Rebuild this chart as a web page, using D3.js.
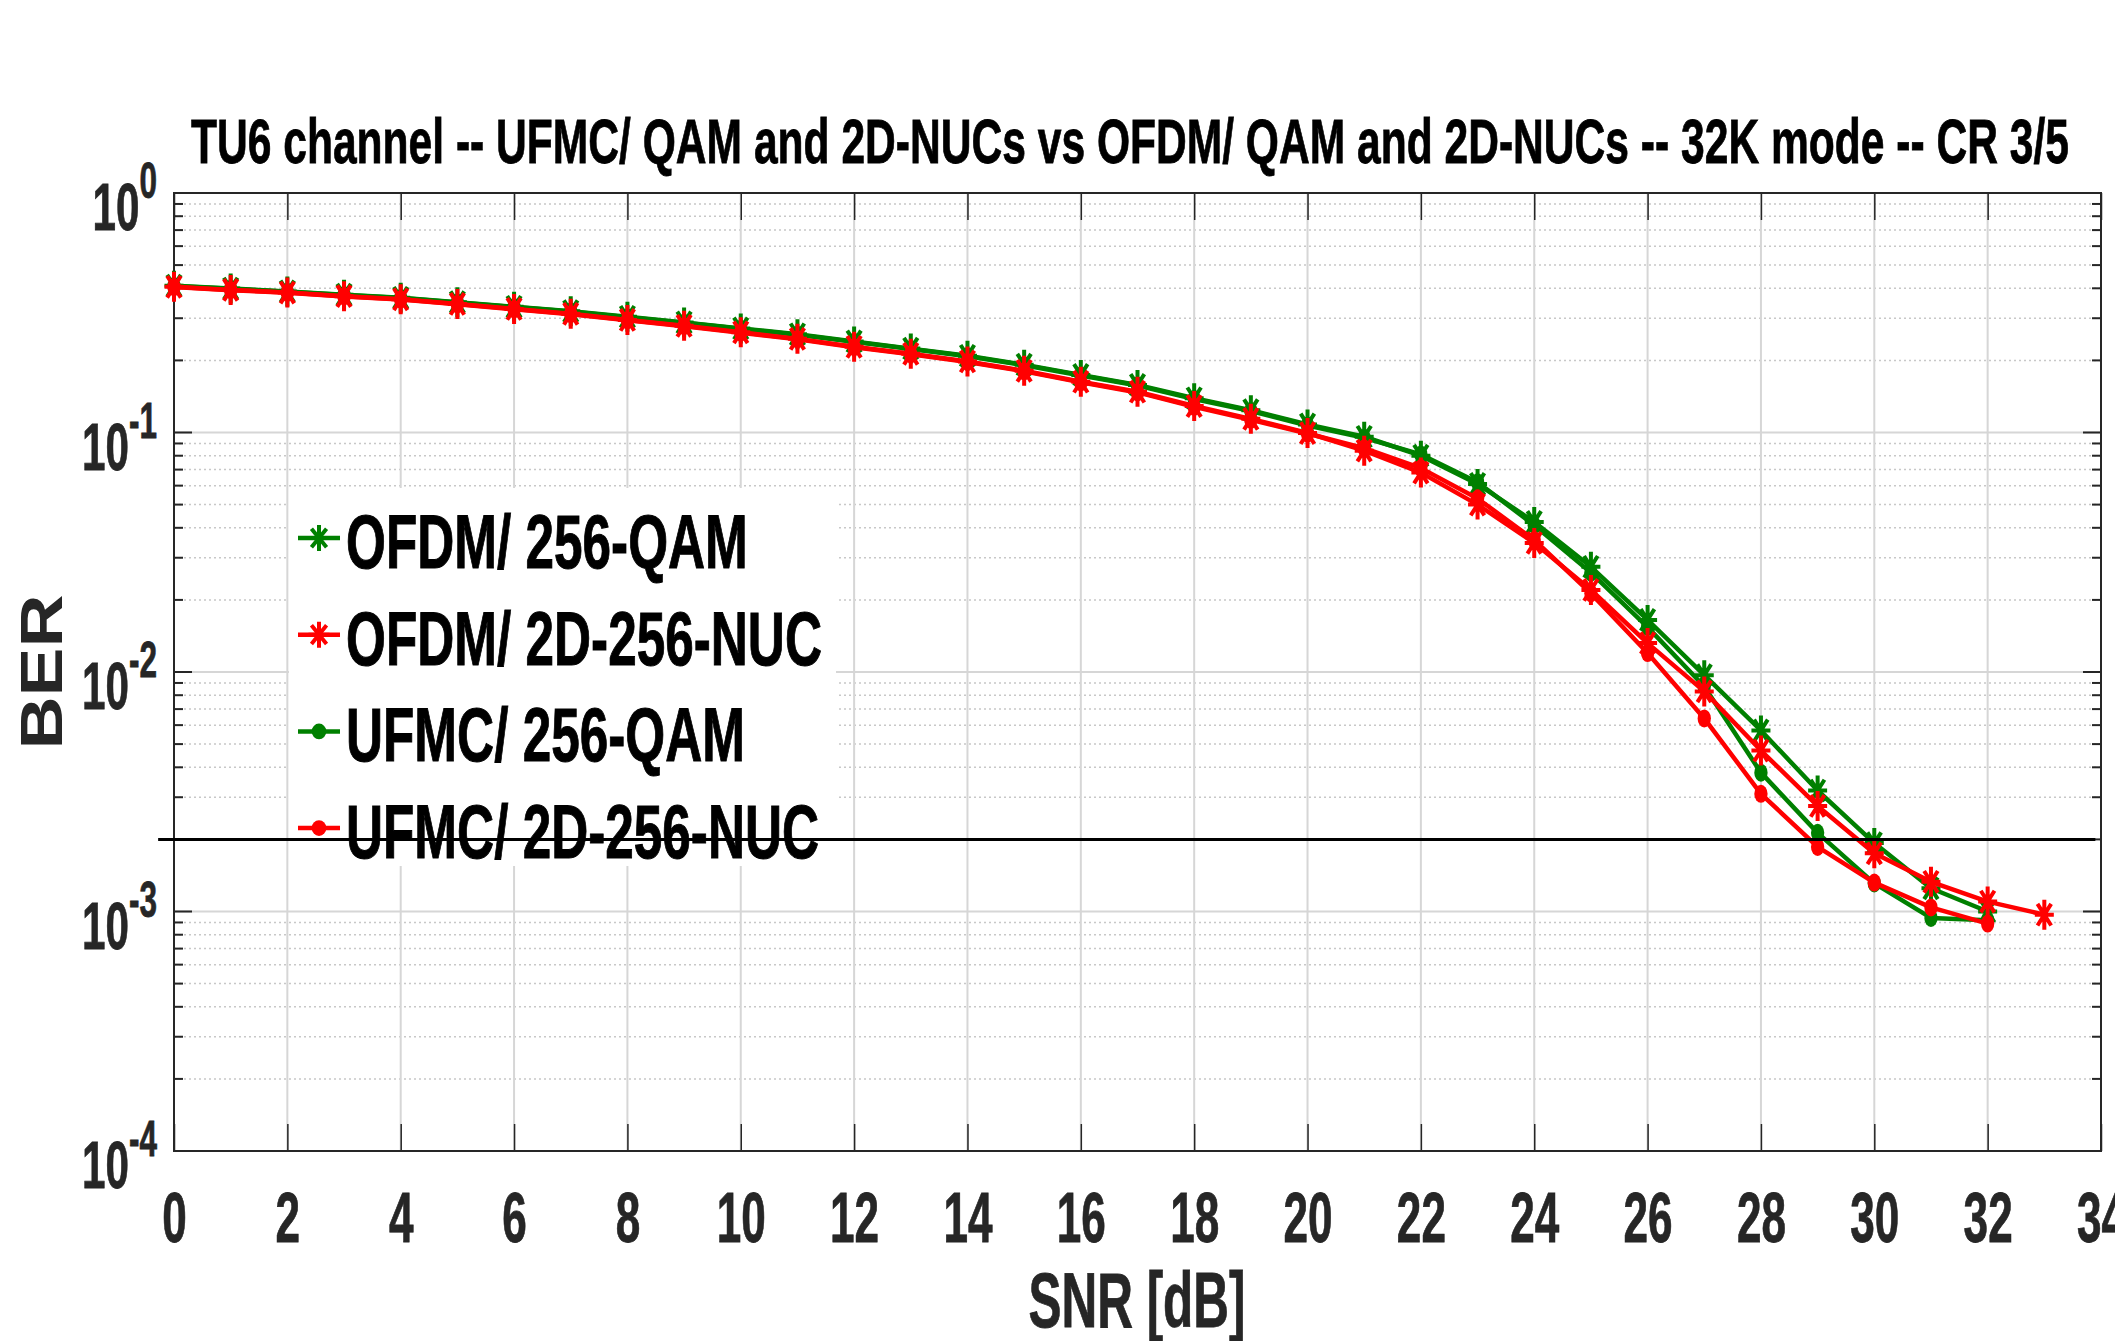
<!DOCTYPE html>
<html>
<head>
<meta charset="utf-8">
<script src="https://cdnjs.cloudflare.com/ajax/libs/d3/7.8.5/d3.min.js"></script>
<style>
    body { margin: 0; background: #fff; }
    text { font-family: "Liberation Sans", Arial, sans-serif; font-weight: bold; }
</style>
</head>
<body>
<div id="wrapper"></div>
<script>
// SNR values (dB)
const snr32 = [0, 1, 2, 3, 4, 5, 6, 7, 8, 9, 10, 11, 12, 13, 14, 15, 16, 17, 18, 19, 20, 21, 22, 23, 24, 25, 26, 27, 28, 29, 30, 31, 32]
const snr33 = [0, 1, 2, 3, 4, 5, 6, 7, 8, 9, 10, 11, 12, 13, 14, 15, 16, 17, 18, 19, 20, 21, 22, 23, 24, 25, 26, 27, 28, 29, 30, 31, 32, 33]

// BER
const berOfdmQam = [0.410, 0.399, 0.388, 0.376, 0.365, 0.350, 0.335, 0.321, 0.304, 0.288, 0.272, 0.257, 0.240, 0.224, 0.209, 0.192, 0.174, 0.158, 0.139, 0.124, 0.108, 0.096, 0.080, 0.061, 0.0423, 0.0275, 0.0165, 0.0097, 0.0057, 0.0032, 0.00193, 0.00125, 0.00100]
const berOfdmNuc = [0.406, 0.394, 0.384, 0.371, 0.360, 0.344, 0.328, 0.313, 0.295, 0.279, 0.262, 0.246, 0.228, 0.213, 0.198, 0.181, 0.163, 0.148, 0.129, 0.114, 0.0995, 0.084, 0.068, 0.050, 0.0346, 0.022, 0.0132, 0.0083, 0.0047, 0.00276, 0.00175, 0.00133, 0.00110, 0.00097]
const berUfmcQam = [0.409, 0.398, 0.387, 0.375, 0.364, 0.349, 0.334, 0.320, 0.303, 0.287, 0.271, 0.256, 0.239, 0.223, 0.208, 0.191, 0.173, 0.157, 0.138, 0.123, 0.107, 0.095, 0.081, 0.062, 0.041, 0.026, 0.0154, 0.0087, 0.0038, 0.00213, 0.00131, 0.00094, 0.00092]
const berUfmcNuc = [0.405, 0.393, 0.383, 0.370, 0.359, 0.343, 0.327, 0.312, 0.294, 0.278, 0.261, 0.245, 0.227, 0.212, 0.197, 0.180, 0.162, 0.147, 0.128, 0.113, 0.099, 0.086, 0.071, 0.053, 0.0356, 0.0213, 0.012, 0.0064, 0.0031, 0.00186, 0.00132, 0.00104, 0.00089]

const seriesNames = ['OFDM/ 256-QAM', 'OFDM/ 2D-256-NUC', 'UFMC/ 256-QAM', 'UFMC/ 2D-256-NUC']

// target BER line
const thresholdBer = 2e-3
const thresholdSnr = [-0.28, 33.9]

const xTicks = [0, 2, 4, 6, 8, 10, 12, 14, 16, 18, 20, 22, 24, 26, 28, 30, 32, 34]
const yDecades = [0, -1, -2, -3, -4]

const titleText = 'TU6 channel -- UFMC/ QAM and 2D-NUCs vs OFDM/ QAM and 2D-NUCs -- 32K mode -- CR 3/5'

const GREEN = '#008000'
const RED = '#ff0000'
const AXIS = '#262626'

let dims = { width: 2115, height: 1341, left: 174, right: 2101, top: 193, bottom: 1151 }

let svg = d3.select('#wrapper')
    .append('svg')
    .attr('width', dims.width)
    .attr('height', dims.height)

let x = d3.scaleLinear().domain([0, 34]).range([dims.left, dims.right])
let y = d3.scaleLog().domain([1e-4, 1]).range([dims.bottom, dims.top])

let minorY = []
yDecades.slice(1).forEach(e => {
    for (let k = 2; k <= 9; k++) minorY.push(k * Math.pow(10, e))
})
let majorY = yDecades.map(e => Math.pow(10, e))

// grid
let grid = svg.append('g')
grid.selectAll('.minor')
    .data(minorY)
    .enter().append('line')
    .attr('x1', dims.left).attr('x2', dims.right)
    .attr('y1', d => y(d)).attr('y2', d => y(d))
    .attr('stroke', '#c8c8c8')
    .attr('stroke-width', 1.5)
    .attr('stroke-dasharray', '2 3')
grid.selectAll('.major')
    .data(majorY)
    .enter().append('line')
    .attr('x1', dims.left).attr('x2', dims.right)
    .attr('y1', d => y(d)).attr('y2', d => y(d))
    .attr('stroke', '#d6d6d6')
    .attr('stroke-width', 2)
grid.selectAll('.vgrid')
    .data(xTicks)
    .enter().append('line')
    .attr('x1', d => x(d)).attr('x2', d => x(d))
    .attr('y1', dims.top).attr('y2', dims.bottom)
    .attr('stroke', '#d6d6d6')
    .attr('stroke-width', 2)

// axes: ticks pointing inwards
svg.append('g')
    .attr('transform', `translate(0,${dims.bottom})`)
    .call(d3.axisBottom(x).tickValues(xTicks).tickSizeInner(-27).tickSizeOuter(0).tickFormat(d3.format('d')))
    .call(g => g.select('.domain').remove())
    .call(g => g.selectAll('line').attr('stroke', AXIS).attr('stroke-width', 1.5))
    .call(g => g.selectAll('text')
        .attr('y', 91).attr('dy', 0)
        .attr('fill', AXIS)
        .attr('font-size', 70)
        .attr('font-family', '"Liberation Sans", Arial, sans-serif')
        .attr('font-weight', 'bold')
        .attr('stroke', AXIS)
        .attr('stroke-width', 0.8)
        .attr('transform', 'scale(0.63,1)'))

svg.append('g')
    .attr('transform', `translate(0,${dims.top})`)
    .call(d3.axisTop(x).tickValues(xTicks).tickSizeInner(-27).tickSizeOuter(0).tickFormat(''))
    .call(g => g.select('.domain').remove())
    .call(g => g.selectAll('line').attr('stroke', AXIS).attr('stroke-width', 1.5))

function yTicks(side) {
    let sign = side === 'left' ? 1 : -1
    let x0 = side === 'left' ? dims.left : dims.right
    let g = svg.append('g')
    g.selectAll('.mj').data(majorY).enter().append('line')
        .attr('x1', x0).attr('x2', x0 + sign * 18)
        .attr('y1', d => y(d)).attr('y2', d => y(d))
        .attr('stroke', AXIS).attr('stroke-width', 2)
    g.selectAll('.mn').data(minorY).enter().append('line')
        .attr('x1', x0).attr('x2', x0 + sign * 9)
        .attr('y1', d => y(d)).attr('y2', d => y(d))
        .attr('stroke', AXIS).attr('stroke-width', 2)
}
yTicks('left')
yTicks('right')

// y tick labels 10^e
let ylab = svg.append('g')
    .selectAll('text')
    .data(yDecades)
    .enter().append('text')
    .attr('transform', d => `translate(${dims.left - 17},${y(Math.pow(10, d)) + 37}) scale(0.63,1)`)
    .attr('text-anchor', 'end')
    .attr('fill', AXIS)
    .attr('stroke', AXIS)
    .attr('stroke-width', 0.8)
ylab.append('tspan').attr('font-size', 67).text('10')
ylab.append('tspan').attr('font-size', 50).attr('dy', -32).text(d => String(d))

// box
svg.append('rect')
    .attr('x', dims.left).attr('y', dims.top)
    .attr('width', dims.right - dims.left).attr('height', dims.bottom - dims.top)
    .attr('fill', 'none')
    .attr('stroke', AXIS)
    .attr('stroke-width', 2)

// marker shapes
function asterisk(hw, hh) {
    let dx = hw * 0.72, dy = hh * 0.72
    return `M${-hw},0L${hw},0M0,${-hh}L0,${hh}M${-dx},${-dy}L${dx},${dy}M${-dx},${dy}L${dx},${-dy}`
}

let series = [
    { name: seriesNames[0], xs: snr32, ys: berOfdmQam, color: GREEN, marker: 'star' },
    { name: seriesNames[1], xs: snr33, ys: berOfdmNuc, color: RED, marker: 'star' },
    { name: seriesNames[2], xs: snr32, ys: berUfmcQam, color: GREEN, marker: 'dot' },
    { name: seriesNames[3], xs: snr32, ys: berUfmcNuc, color: RED, marker: 'dot' }
]

let line = d3.line().x(d => x(d[0])).y(d => y(d[1]))

function drawMarker(g, s, px, py, hw, hh) {
    if (s.marker === 'star') {
        g.append('path')
            .attr('d', asterisk(hw, hh))
            .attr('transform', `translate(${px},${py})`)
            .attr('stroke', s.color)
            .attr('stroke-width', 4)
            .attr('fill', 'none')
    } else {
        g.append('ellipse')
            .attr('cx', px).attr('cy', py)
            .attr('rx', hw * 0.7).attr('ry', hh * 0.6)
            .attr('fill', s.color)
    }
}

// draw order: greens first, red on top
let plotOrder = [series[0], series[2], series[3], series[1]]
let plot = svg.append('g')
plotOrder.forEach(s => {
    let pts = s.xs.map((v, i) => [v, s.ys[i]])
    let g = plot.append('g')
    g.append('path')
        .datum(pts)
        .attr('d', line)
        .attr('fill', 'none')
        .attr('stroke', s.color)
        .attr('stroke-width', 4.5)
        .attr('stroke-linejoin', 'round')
    pts.forEach(p => drawMarker(g, s, x(p[0]), y(p[1]), 9.5, 15))
})

// legend
let legend = svg.append('g')
legend.append('rect')
    .attr('x', 289).attr('y', 488)
    .attr('width', 547).attr('height', 378)
    .attr('fill', '#fff')
series.forEach((s, i) => {
    let cy = 538 + i * 96.7
    legend.append('line')
        .attr('x1', 298).attr('x2', 340)
        .attr('y1', cy).attr('y2', cy)
        .attr('stroke', s.color)
        .attr('stroke-width', 4.5)
    drawMarker(legend, s, 319, cy, 10.5, 13)
    legend.append('text')
        .attr('transform', `translate(346,${cy + 30}) scale(0.675,1)`)
        .attr('font-size', 76)
        .attr('fill', '#000')
        .attr('stroke', '#000')
        .attr('stroke-width', 1)
        .text(s.name)
})

// threshold line, drawn on top
svg.append('line')
    .attr('x1', x(thresholdSnr[0])).attr('x2', x(thresholdSnr[1]))
    .attr('y1', y(thresholdBer)).attr('y2', y(thresholdBer))
    .attr('stroke', '#000')
    .attr('stroke-width', 3)

// title and axis labels
svg.append('text')
    .attr('x', 1130).attr('y', 163)
    .attr('text-anchor', 'middle')
    .attr('font-size', 63)
    .attr('textLength', 1878)
    .attr('lengthAdjust', 'spacingAndGlyphs')
    .attr('fill', '#000')
    .attr('stroke', '#000')
    .attr('stroke-width', 0.8)
    .text(titleText)

svg.append('text')
    .attr('x', 1137).attr('y', 1327)
    .attr('text-anchor', 'middle')
    .attr('font-size', 77)
    .attr('textLength', 217)
    .attr('lengthAdjust', 'spacingAndGlyphs')
    .attr('fill', AXIS)
    .attr('stroke', AXIS)
    .attr('stroke-width', 0.8)
    .text('SNR [dB]')

svg.append('text')
    .attr('transform', 'translate(62,672) rotate(-90)')
    .attr('text-anchor', 'middle')
    .attr('font-size', 59)
    .attr('textLength', 155)
    .attr('lengthAdjust', 'spacingAndGlyphs')
    .attr('fill', AXIS)
    .text('BER')
</script>
</body>
</html>
